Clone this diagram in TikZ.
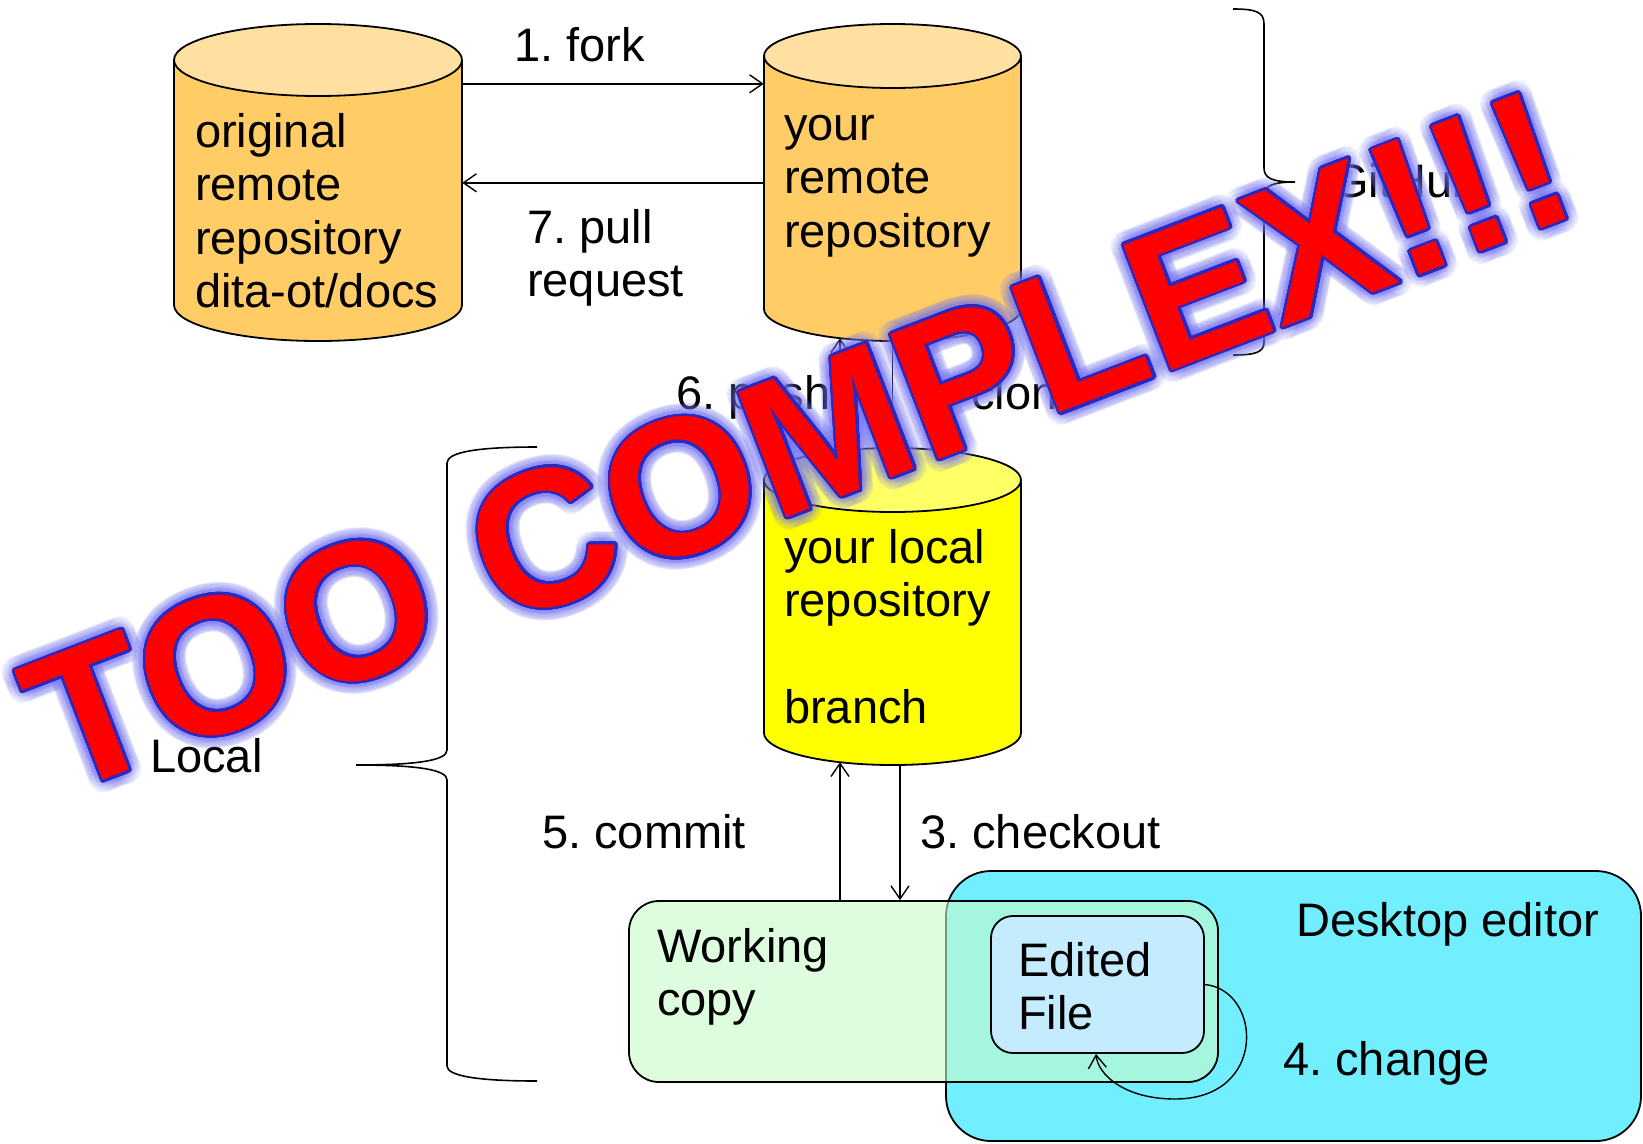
\documentclass[tikz,border=0pt]{standalone}
\usepackage{fontspec}
\setmainfont{Liberation Sans}
\usetikzlibrary{arrows.meta,calc}
\frenchspacing
\definecolor{cylbody}{RGB}{255,204,102}
\definecolor{cyltop}{RGB}{255,224,160}
\definecolor{locbody}{RGB}{255,255,0}
\definecolor{loctop}{RGB}{255,255,102}
\definecolor{wcfill}{RGB}{201,252,203}
\definecolor{deskfill}{RGB}{113,239,255}
\definecolor{editfill}{RGB}{197,235,255}
\definecolor{glowblue}{RGB}{120,120,245}
\definecolor{outlineblue}{RGB}{40,40,195}
\definecolor{warnred}{RGB}{255,0,0}
\tikzset{
  shapeline/.style={draw=black, line width=1.8pt},
  arr/.style={draw=black, line width=1.4pt, -{Straight Barb[length=13pt,width=18pt]}},
  braceline/.style={draw=black, line width=1.6pt},
  lbl/.style={font=\fontsize{47}{53.5}\selectfont\frenchspacing, inner sep=0pt, align=left},
  boxnode/.style={shapeline, inner sep=0pt},
  toolayer/.style={rotate=21, anchor=base west, inner sep=0pt, font=\fontsize{195}{195}\selectfont\bfseries}
}
\newcommand\drawcyl[8]{%
  \pgfmathsetmacro\cL{#2-#5}%
  \pgfmathsetmacro\cR{#2+#5}%
  \pgfmathsetmacro\kx{0.5523*#5}%
  \pgfmathsetmacro\ky{0.5523*#6}%
  \pgfmathsetmacro\yb{#4+#6}%
  \pgfmathsetmacro\ybk{#4+\ky}%
  \fill[#7] (\cL,#3) -- (\cL,#4) .. controls (\cL,\ybk) and (#2-\kx,\yb) .. (#2,\yb) .. controls (#2+\kx,\yb) and (\cR,\ybk) .. (\cR,#4) -- (\cR,#3) -- cycle;
  \draw[shapeline] (\cL,#3) -- (\cL,#4) .. controls (\cL,\ybk) and (#2-\kx,\yb) .. (#2,\yb) .. controls (#2+\kx,\yb) and (\cR,\ybk) .. (\cR,#4) -- (\cR,#3);
  \draw[shapeline, fill=#8] (#2,#3) ellipse [x radius=#5, y radius=#6];
  \pgfmathsetmacro\ch{#4-#3+2*#6}%
  \pgfmathsetmacro\cm{(#4+#3)/2}%
  \node[inner sep=0pt, minimum width={2*#5*1pt}, minimum height={\ch*1pt}] (#1) at (#2,\cm) {};
}
\newcommand\ringcopies[3]{%
  \foreach \k in {1,...,#2}{%
    \pgfmathsetlengthmacro\rdx{#1*cos(360*\k/#2)}%
    \pgfmathsetlengthmacro\rdy{#1*sin(360*\k/#2)}%
    \rlap{\kern\rdx\raisebox{\rdy}{#3}}%
  }%
}
\begin{document}
\begin{tikzpicture}[x=1pt, y=-1pt]
\useasboundingbox (0,0) rectangle (1643,1143);
\fill[white] (0,0) rectangle (1643,1143);

% cylinders
\drawcyl{orig}{318}{60}{305}{144}{36}{cylbody}{cyltop}
\drawcyl{yours}{892.5}{56}{309}{128.5}{32}{cylbody}{cyltop}
\drawcyl{local}{892.5}{480}{733}{128.5}{32}{locbody}{loctop}

\node[lbl, anchor=north west] (origtxt) at (195,109.5) {\strut original\\remote\\repository\\dita-ot/docs};
\node[lbl, anchor=north west] (yourtxt) at (784,102.5) {\strut your\\remote\\repository};
\node[lbl, anchor=north west] (localtxt) at (784,525.5) {\strut your local\\repository\\\strut\\branch};

% boxes
\node[boxnode, fill=deskfill, rounded corners=45pt, minimum width=695pt, minimum height=270pt] (desk) at (1293.5,1006) {};
\node[boxnode, fill=wcfill, fill opacity=0.6, rounded corners=30pt, minimum width=589pt, minimum height=181pt] (wc) at (923.5,991.5) {};
\node[boxnode, fill=editfill, rounded corners=22pt, minimum width=213pt, minimum height=137pt] (edit) at (1097.5,984.5) {};

\node[lbl, anchor=north west] (wctxt) at (657,924.5) {\strut Working\\copy};
\node[lbl, anchor=north west] (edtxt) at (1018,938.5) {\strut Edited\\File};
\node[lbl, anchor=base west] (desklbl) at (1296,936) {Desktop editor};
\node[lbl, anchor=base west] (changelbl) at (1283,1075) {4. change};

% connectors
\draw[arr] ($(orig.north east)+(0,60)$) -- ($(yours.north west)+(0,60)$);
\draw[arr] ($(yours.north west)+(0,159)$) -- ($(orig.north east)+(0,159)$);
\draw[arr] (yours.south) -- (local.north);
\draw[arr] ($(local.north)+(-52.5,3)$) -- ($(yours.south)+(-52.5,-3)$);
\path ($(local.south)+(7.5,0)$) coordinate (cko);
\draw[arr] (cko) -- (cko |- wc.north);
\path ($(local.south)+(-52.5,-3)$) coordinate (cmt);
\draw[arr] (cmt |- wc.north) -- (cmt);
\draw[arr] (edit.east) .. controls (1262,990) and (1268,1099) .. (1175,1099) .. controls (1125,1099) and (1098,1075) .. ($(edit.south)+(-1.5,0)$);

\node[lbl, anchor=base west] (forklbl) at (514,61) {1. fork};
\node[lbl, anchor=north west] (pulllbl) at (527,205.5) {\strut 7. pull\\request};
\node[lbl, anchor=base west] (pushlbl) at (676,409) {6. push};
\node[lbl, anchor=base west] (clonelbl) at (919,409) {2. clone};
\node[lbl, anchor=base west] (commitlbl) at (542,848) {5. commit};
\node[lbl, anchor=base west] (checkoutlbl) at (920,848) {3. checkout};

% braces
\draw[braceline] (1233,9) .. controls (1256,9) and (1264,12) .. (1264,24) -- (1264,168) .. controls (1264,178) and (1272,182) .. (1295,182) .. controls (1272,182) and (1264,186) .. (1264,196) -- (1264,342) .. controls (1264,352) and (1256,355) .. (1233,355);
\node[lbl, anchor=base west] (ghlbl) at (1332,197) {GitHub};
\draw[braceline] (537,447) .. controls (478,447) and (447,452) .. (447,463) -- (447,750) .. controls (447,760) and (420,765) .. (356,765) .. controls (420,765) and (447,770) .. (447,780) -- (447,1066) .. controls (447,1076) and (478,1081) .. (537,1081);
\node[lbl, anchor=base west] (locallbl) at (150,772) {Local};

% overlay
\node[toolayer, text=glowblue, text opacity=0.07] (glowa) at (60,797) {\ringcopies{13pt}{36}{TOO COMPLEX!!!}};
\node[toolayer, text=glowblue, text opacity=0.07] (glowb) at (60,797) {\ringcopies{7pt}{24}{TOO COMPLEX!!!}};
\node[toolayer, text=outlineblue] (toooutline) at (60,797) {\ringcopies{2.6pt}{24}{TOO COMPLEX!!!}};
\node[toolayer, text=warnred] (tootext) at (60,797) {TOO COMPLEX!!!};
\end{tikzpicture}
\end{document}
